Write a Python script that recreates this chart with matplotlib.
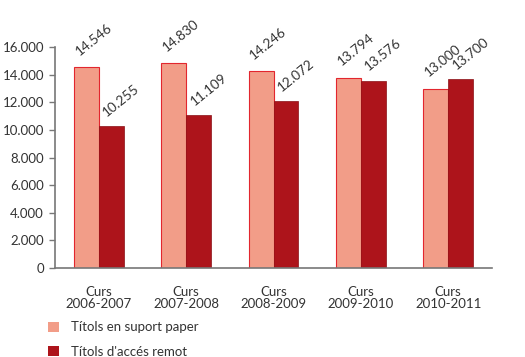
import numpy as np
import matplotlib.pyplot as plt
from matplotlib.patches import Patch

cursos = ['Curs\n2006-2007', 'Curs\n2007-2008', 'Curs\n2008-2009', 'Curs\n2009-2010', 'Curs\n2010-2011']
paper = [14546, 14830, 14246, 13794, 13000]
remot = [10255, 11109, 12072, 13576, 13700]
yticks = [0, 2000, 4000, 6000, 8000, 10000, 12000, 14000, 16000]

c_light = '#F29D88'
c_edge = '#E2262E'
c_dark = '#AD141B'
c_text = '#333333'
c_axis = '#777777'

plt.rcParams['font.family'] = ['Lato', 'DejaVu Sans']

fig = plt.figure(figsize=(5.25, 3.57), dpi=100)
ax = fig.add_axes([0.105, 0.249, 0.832, 0.619])

x = np.arange(len(cursos))
w = 0.285
ax.bar(x - w / 2, paper, w, color=c_light, edgecolor=c_edge, linewidth=0.8)
ax.bar(x + w / 2, remot, w, color=c_dark, edgecolor='#8a1015', linewidth=0.5)

def fmt(v):
    return f'{v:,}'.replace(',', '.')

for i in range(len(x)):
    ax.text(x[i] - w + 0.08, paper[i] + 700, fmt(paper[i]), rotation=39,
            rotation_mode='anchor', ha='left', va='bottom', fontsize=9.8, color=c_text)
    ax.text(x[i] + 0.11, remot[i] + 550, fmt(remot[i]), rotation=39,
            rotation_mode='anchor', ha='left', va='bottom', fontsize=9.8, color=c_text)

ax.set_xlim(-0.5, 4.5)
ax.set_ylim(0, 16000)
ax.set_yticks(yticks)
ax.set_yticklabels([fmt(v) for v in yticks], fontsize=9.5, color=c_text)
ax.set_xticks(x)
ax.set_xticklabels(cursos, fontsize=9.5, color=c_text, linespacing=0.95)
ax.tick_params(axis='x', length=0, pad=13)
ax.tick_params(axis='y', length=4, width=1, color=c_axis, pad=4)

for s in ['top', 'right']:
    ax.spines[s].set_visible(False)
for s in ['left', 'bottom']:
    ax.spines[s].set_color(c_axis)
    ax.spines[s].set_linewidth(1.2)

handles = [Patch(facecolor=c_light, edgecolor='none'), Patch(facecolor=c_dark, edgecolor='none')]
fig.legend(handles, ['Títols en suport paper', "Títols d'accés remot"], loc='upper left',
           bbox_to_anchor=(0.082, 0.115), frameon=False, fontsize=9.5, handlelength=0.8,
           handleheight=0.8, handletextpad=0.9, labelspacing=0.95, labelcolor=c_text,
           borderaxespad=0)

fig.savefig('out.png', dpi=100)
